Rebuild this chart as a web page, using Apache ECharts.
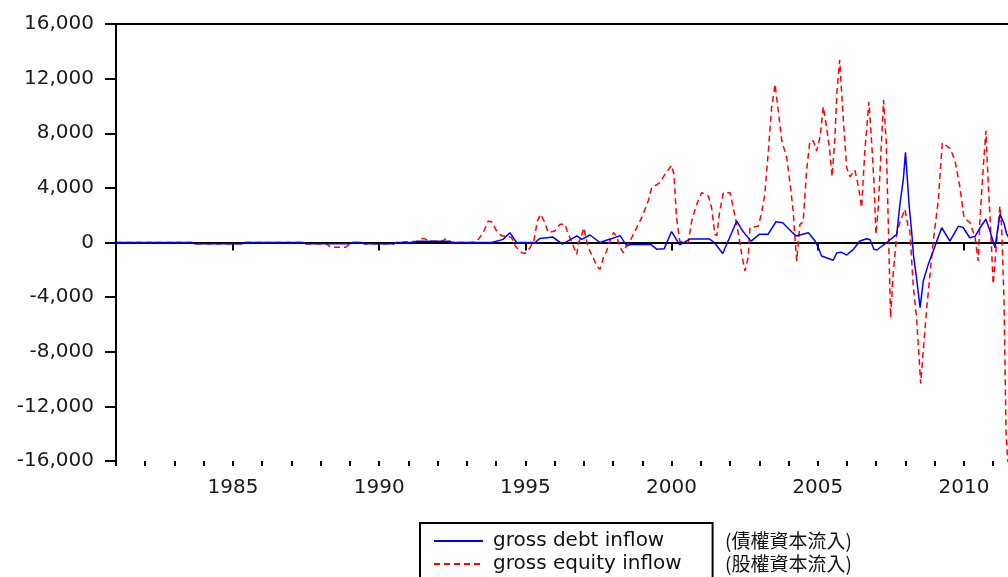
<!DOCTYPE html>
<html>
<head>
<meta charset="utf-8">
<script src="https://cdn.jsdelivr.net/npm/echarts@6/dist/echarts.min.js"></script>
<style>
  html, body { margin: 0; padding: 0; background: #fff; }
  #chart { width: 1008px; height: 577px; }
</style>
</head>
<body>
<div id="chart"></div>
<script>
// gross debt inflow (blue) as [decimal year] / value pairs
const debtYears = [1981.0, 1983.6, 1983.7, 1985.3, 1985.4, 1987.4, 1987.5, 1989.0, 1989.1, 1989.4, 1989.5, 1990.5, 1990.6,
  1991.2, 1991.3, 1992.4, 1992.5, 1993.85, 1994.24, 1994.47, 1994.7, 1995.33, 1995.5, 1995.94, 1996.27, 1996.76, 1996.93,
  1997.21, 1997.55, 1997.9, 1998.24, 1998.47, 1998.6, 1999.3, 1999.5, 1999.75, 2000.0, 2000.28, 2000.62, 2001.3, 2001.46,
  2001.75, 2002.23, 2002.43, 2002.72, 2003.0, 2003.3, 2003.57, 2003.8, 2004.14, 2004.26, 2004.68, 2004.91, 2005.02, 2005.13,
  2005.53, 2005.65, 2005.82, 2005.99, 2006.22, 2006.44, 2006.67, 2006.79, 2006.92, 2007.02, 2007.36, 2007.7, 2007.81,
  2007.93, 2008.0, 2008.05, 2008.13, 2008.21, 2008.27, 2008.36, 2008.5, 2008.61, 2008.78, 2008.95, 2009.07, 2009.24,
  2009.52, 2009.81, 2009.97, 2010.2, 2010.38, 2010.55, 2010.75, 2010.89, 2011.06, 2011.23, 2011.37, 2011.46, 2011.55]
const debtValues = [0, 0, -100, -100, 0, 0, -100, -100, 0, 0, -100, -100, 0,
  0, 100, 100, 0, 0, 230, 720, 0, 0, 300, 400, -120, 480, 230,
  550, 0, 250, 500, -250, -150, -150, -500, -450, 800, -180, 250, 250, 0,
  -800, 1570, 840, 100, 600, 600, 1520, 1450, 720, 480, 720, 110, -380, -990,
  -1300, -750, -720, -915, -500, 110, 280, 200, -500, -550, 0, 600, 2800,
  4700, 6600, 6600, 2600, 840, -870, -2300, -4770, -2800, -1600, -620, 100, 1080,
  100, 1200, 1100, 350, 450, 1080, 1700, 840, -380, 2060, 1400, 620, 300]

// gross equity inflow (red dashed)
const equityYears = [1981.0, 1983.6, 1983.7, 1985.3, 1985.4, 1987.4, 1987.5, 1988.2, 1988.35, 1988.85, 1989.0, 1989.1,
  1989.4, 1989.5, 1990.5, 1990.6, 1991.3, 1991.5, 1991.8, 1992.15, 1992.3, 1992.45, 1993.2, 1993.39, 1993.56, 1993.73,
  1993.85, 1994.02, 1994.19, 1994.36, 1994.53, 1994.65, 1994.87, 1994.99, 1995.16, 1995.29, 1995.41, 1995.52, 1995.67,
  1995.78, 1996.01, 1996.18, 1996.36, 1996.43, 1996.64, 1996.76, 1996.81, 1996.92, 1997.0, 1997.07, 1997.15, 1997.32,
  1997.44, 1997.55, 1997.67, 1997.78, 1997.87, 1998.01, 1998.12, 1998.24, 1998.35, 1998.47, 1998.58, 1998.75, 1998.98,
  1999.2, 1999.32, 1999.6, 1999.78, 2000.0, 2000.08, 2000.17, 2000.28, 2000.46, 2000.57, 2000.69, 2000.86, 2001.03,
  2001.26, 2001.37, 2001.48, 2001.55, 2001.63, 2001.77, 2002.0, 2002.11, 2002.25, 2002.4, 2002.51, 2002.62, 2002.68,
  2002.97, 2003.08, 2003.19, 2003.31, 2003.42, 2003.54, 2003.65, 2003.77, 2003.94, 2004.07, 2004.16, 2004.22, 2004.28,
  2004.39, 2004.5, 2004.62, 2004.73, 2004.85, 2004.96, 2005.08, 2005.19, 2005.3, 2005.41, 2005.49, 2005.58, 2005.66,
  2005.75, 2005.81, 2005.89, 2005.99, 2006.1, 2006.27, 2006.39, 2006.5, 2006.61, 2006.75, 2006.84, 2006.92, 2006.99,
  2007.07, 2007.18, 2007.25, 2007.34, 2007.41, 2007.49, 2007.58, 2007.7, 2007.81, 2007.98, 2008.1, 2008.15, 2008.27,
  2008.38, 2008.52, 2008.61, 2008.73, 2008.84, 2008.95, 2009.12, 2009.26, 2009.52, 2009.69, 2009.86, 2010.0, 2010.21,
  2010.38, 2010.49, 2010.55, 2010.66, 2010.75, 2010.83, 2010.91, 2011.0, 2011.12, 2011.23, 2011.29, 2011.37, 2011.44,
  2011.48, 2011.55]
const equityValues = [0, 0, -100, -100, 0, 0, -100, -100, -350, -350, -100, 0,
  0, -100, -100, 0, 100, 300, 100, 100, 300, 0, 0, 230, 720, 1570,
  1500, 840, 480, 480, 350, -250, -740, -800, -380, 100, 1570, 2060, 1450,
  720, 840, 1330, 1330, 840, -250, -870, -50, 480, 1080, 350, -380, -1110,
  -1720, -1960, -1110, -620, 0, 720, 500, -380, -740, -200, 100, 840, 1820,
  3040, 4000, 4380, 5000, 5650, 5000, 1820, 100, 0, 0, 1570, 2800, 3650,
  3400, 2550, 600, 500, 2060, 3650, 3650, 2550, 1080, -870, -2080, -1110, 1080,
  1200, 2180, 3530, 6700, 9870, 11580, 9630, 7430, 6200, 4000, 2300, 350, -1350,
  1330, 1500, 5300, 7430, 7430, 6700, 7750, 9940, 8480, 6700, 4820, 7430, 11170,
  13370, 11170, 8480, 5480, 4820, 5300, 4090, 2550, 6700, 10310, 7430, 4500, 600,
  2550, 7430, 10430, 7430, 1570, -5500, -2330, 600, 1500, 2430, 1080, 840, -3300,
  -5500, -10330, -7870, -4700, -2330, 100, 3040, 7300, 6900, 6040, 4090, 1820, 1450,
  350, -1350, 1820, 5480, 8180, 4300, 1080, -3060, 100, 2670, 1080, -4280, -14000,
  -15430, -18000]

const seriesNames = ['gross debt inflow', 'gross equity inflow']
const seriesNotes = ['(債權資本流入)', '(股權資本流入)']
const yearLabels = [1985, 1990, 1995, 2000, 2005, 2010]
const minorYears = []
for (let y = 1981; y <= 2011; y++) minorYears.push(y)

const pairs = (xs, ys) => xs.map((x, i) => [x, ys[i]])

var myChart = echarts.init(document.getElementById('chart'), null, { renderer: 'canvas' })

// 29.24 px per year, axis starts at 1981 on x=116, picture is cut at the right edge
const xMin = 1981
const xMax = 1981 + 892 / 29.24

const option = {
  animation: false,
  backgroundColor: '#fff',
  grid: {
    left: 116,
    top: 24,
    right: 0,
    height: 437
  },
  xAxis: [
    {
      type: 'value',
      min: xMin,
      max: xMax,
      position: 'bottom',
      splitLine: { show: false },
      axisLine: { show: true, lineStyle: { color: '#000', width: 2 } },
      axisTick: { show: true, customValues: yearLabels, length: 8, lineStyle: { color: '#000', width: 2 } },
      axisLabel: {
        customValues: yearLabels,
        margin: 17,
        fontFamily: 'DejaVu Sans',
        fontSize: 20,
        color: '#1a1a1a',
        formatter: v => String(v)
      }
    },
    {
      type: 'value',
      min: xMin,
      max: xMax,
      position: 'bottom',
      offset: 0,
      splitLine: { show: false },
      axisLine: { show: false },
      axisTick: { show: true, customValues: minorYears, length: 5, lineStyle: { color: '#000', width: 2 } },
      axisLabel: { show: false }
    },
    {
      type: 'value',
      min: xMin,
      max: xMax,
      position: 'top',
      splitLine: { show: false },
      axisLine: { show: true, lineStyle: { color: '#000', width: 2 } },
      axisTick: { show: false },
      axisLabel: { show: false }
    }
  ],
  yAxis: {
    type: 'value',
    min: -16000,
    max: 16000,
    interval: 4000,
    splitLine: { show: false },
    axisLine: { show: true, lineStyle: { color: '#000', width: 2 } },
    axisTick: { show: true, length: 11, lineStyle: { color: '#000', width: 2 } },
    axisLabel: {
      margin: 22,
      fontFamily: 'DejaVu Sans',
      fontSize: 20,
      color: '#1a1a1a',
      formatter: v => v.toLocaleString('en-US')
    }
  },
  legend: {
    orient: 'vertical',
    left: 420,
    top: 523,
    height: 120,
    data: seriesNames,
    selectedMode: false,
    borderColor: '#000',
    borderWidth: 2,
    padding: [8, 31, 10, 13],
    itemWidth: 49,
    itemHeight: 14,
    itemGap: 3,
    itemStyle: { opacity: 0 },
    textStyle: {
      fontFamily: 'DejaVu Sans',
      fontSize: 20,
      lineHeight: 20,
      color: '#111',
      padding: [0, 0, 0, 5]
    }
  },
  graphic: seriesNotes.map((t, i) => ({
    type: 'text',
    x: 725,
    y: 541 + i * 23,
    style: {
      text: t,
      font: '19px "Noto Sans CJK TC"',
      fill: '#111',
      verticalAlign: 'middle'
    }
  })),
  series: [
    {
      name: seriesNames[0],
      type: 'line',
      xAxisIndex: 0,
      symbol: 'none',
      data: pairs(debtYears, debtValues),
      lineStyle: { color: '#0000ff', width: 1.5 },
      itemStyle: { color: '#0000ff' },
      z: 3
    },
    {
      name: seriesNames[1],
      type: 'line',
      xAxisIndex: 0,
      symbol: 'none',
      data: pairs(equityYears, equityValues),
      lineStyle: { color: '#ff0000', width: 1.5, type: [6, 4] },
      itemStyle: { color: '#ff0000' },
      z: 2
    }
  ]
}

myChart.setOption(option)
</script>
</body>
</html>
